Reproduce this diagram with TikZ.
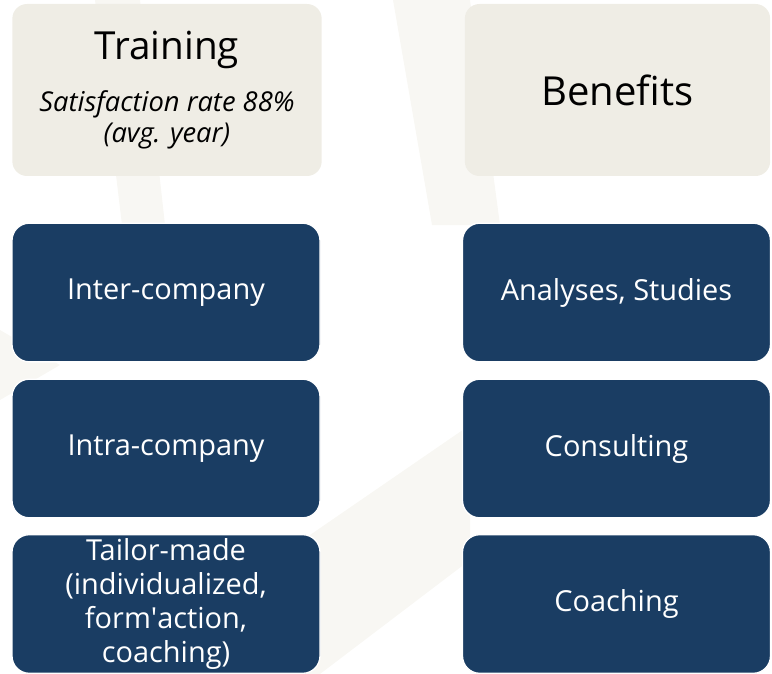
\documentclass[tikz,border=0pt]{standalone}
\usepackage{fontspec}
\setmainfont{Open Sans}
\definecolor{navy}{HTML}{1A3D63}
\definecolor{sand}{HTML}{EFEDE5}
\definecolor{wmark}{HTML}{F8F7F3}
\tikzset{
  headbox/.style={fill=sand, rounded corners=11pt, minimum width=232pt, minimum height=129pt, align=center, inner sep=0pt, font=\fontsize{20.5}{23.25}\selectfont},
  itembox/.style={fill=navy, draw=white, line width=1pt, rounded corners=13pt, text=white, minimum width=231pt, minimum height=104pt, align=center, inner sep=0pt, font=\fontsize{21.7}{25.5}\selectfont},
}
\begin{document}
\begin{tikzpicture}[x=0.75pt,y=-0.75pt]
\useasboundingbox (0,0) rectangle (772,674);
\fill[wmark] (95,0) -- (140,0) -- (165,225) -- (122,225) -- cycle;
\fill[wmark] (393,0) -- (470,0) -- (500,225) -- (432,225) -- cycle;
\fill[wmark] (470,425) -- (310,535) -- (300,674) -- (320,674) -- (470,560) -- cycle;
\fill[wmark] (0,330) -- (60,365) -- (0,400) -- cycle;

\node[headbox] (training) at (167,90) {{\fontsize{29}{34}\selectfont Training}\\[16pt]{\itshape Satisfaction rate 88\%}\\{\itshape (avg. year)}};
\node[headbox, minimum width=229pt] (benefits) at (617.5,90) {\fontsize{30}{34}\selectfont Benefits};

\node[itembox] (inter) at (166,292.5) {Inter-company};
\node[itembox] (intra) at (166,448.5) {Intra-company};
\node[itembox] (tailor) at (166,604) {Tailor-made\\(individualized,\\form\textquotesingle action,\\coaching)};
\node[itembox] (analyses) at (616.5,292.5) {Analyses, Studies};
\node[itembox] (consulting) at (616.5,448.5) {Consulting};
\node[itembox] (coaching) at (616.5,604) {Coaching};
\end{tikzpicture}
\end{document}
